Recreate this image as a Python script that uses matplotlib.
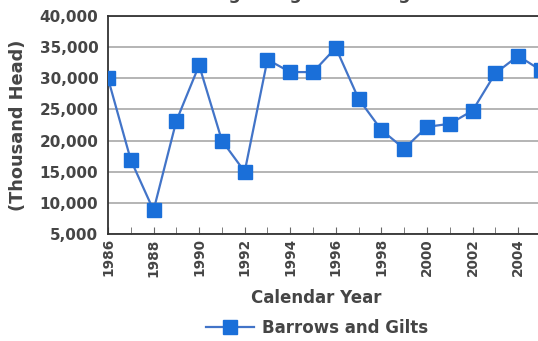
import matplotlib.pyplot as plt
from matplotlib.ticker import FuncFormatter, MultipleLocator, FixedLocator

# Barrows and gilts, thousand head by calendar year
years = [1986, 1987, 1988, 1989, 1990, 1991, 1992, 1993, 1994, 1995,
         1996, 1997, 1998, 1999, 2000, 2001, 2002, 2003, 2004, 2005]
head = [30000, 16900, 8800, 23150, 32100, 20000, 15000, 33000, 31000, 31000,
        34900, 26700, 21700, 18700, 22200, 22700, 24800, 30800, 33600, 31300]
year_ticks = list(range(1986, 2005, 2))

plt.rcParams['font.family'] = ['DejaVu Sans']
plt.rcParams['font.weight'] = 'bold'
text_color = '#454545'

fig = plt.figure(figsize=(5.38, 3.41), dpi=100)
ax = fig.add_axes([0.2007, 0.3138, 0.847, 0.6392])

ax.plot(years, head, color='#4274c8', linewidth=1.6, marker='s',
        markersize=10, markerfacecolor='#1a6fd9', markeredgecolor='#1a6fd9',
        label='Barrows and Gilts', zorder=3)

ax.set_xlim(1986, 2006)
ax.set_ylim(5000, 40000)
ax.yaxis.set_major_locator(MultipleLocator(5000))
ax.yaxis.set_major_formatter(FuncFormatter(lambda v, p: f'{v:,.0f}'))
ax.xaxis.set_major_locator(FixedLocator(year_ticks))
ax.xaxis.set_minor_locator(MultipleLocator(1))

ax.grid(axis='y', color='#a0a0a0', linewidth=1.1)
ax.set_axisbelow(True)
ax.spines['right'].set_visible(False)
for side in ['left', 'bottom', 'top']:
    ax.spines[side].set_color('#333333')
    ax.spines[side].set_linewidth(1.3)

ax.tick_params(axis='x', which='both', direction='in', length=5, color='#666666',
               labelrotation=90, labelsize=9.8, labelcolor=text_color, pad=3)
ax.tick_params(axis='y', length=0, labelsize=11, labelcolor=text_color, pad=7)

ax.set_xlabel('Calendar Year', fontsize=12, fontweight='bold', color=text_color, va='center')
ax.xaxis.set_label_coords((316 - 108) / 455.7, (234 - 298) / 218)
ax.set_ylabel('(Thousand Head)', fontsize=12.8, fontweight='bold', color=text_color, va='center')
ax.yaxis.set_label_coords((18 - 108) / 455.7, 0.5)

# title sits above the top edge of the figure
fig.text(312 / 538, 1 + 1 / 341, 'Hog Slaughter Change', fontsize=12.5, fontweight='bold',
         color=text_color, ha='center', va='baseline')

fig.legend(loc='center', bbox_to_anchor=(317 / 538, 1 - 328 / 341), frameon=False,
           prop={'weight': 'bold', 'size': 12}, handlelength=2.9, handletextpad=0.45,
           labelcolor=text_color)

fig.savefig('out.png', dpi=100)
